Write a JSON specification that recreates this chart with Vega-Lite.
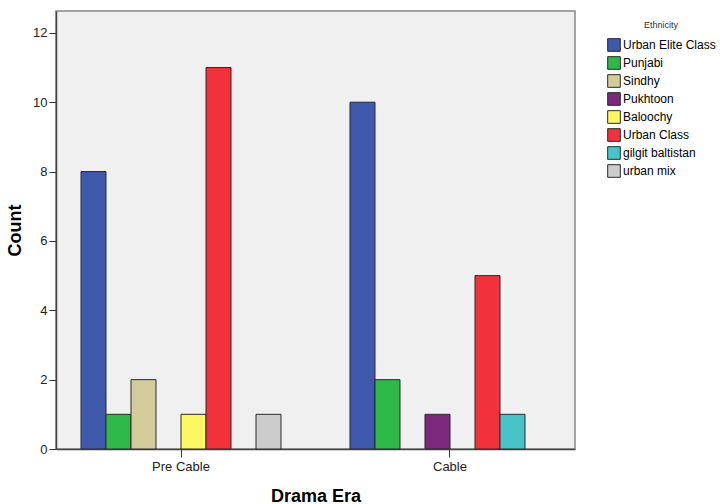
{
  "$schema": "https://vega.github.io/schema/vega-lite/v6.json",
  "width": 519,
  "height": 438,
  "autosize": "none",
  "padding": {"left": 56, "top": 11, "right": 150, "bottom": 55},
  "background": "white",
  "data": {
    "values": [
      {"era": "Pre Cable", "ethnicity": "Urban Elite Class", "count": 8},
      {"era": "Pre Cable", "ethnicity": "Punjabi", "count": 1},
      {"era": "Pre Cable", "ethnicity": "Sindhy", "count": 2},
      {"era": "Pre Cable", "ethnicity": "Baloochy", "count": 1},
      {"era": "Pre Cable", "ethnicity": "Urban Class", "count": 11},
      {"era": "Pre Cable", "ethnicity": "urban mix", "count": 1},
      {"era": "Cable", "ethnicity": "Urban Elite Class", "count": 10},
      {"era": "Cable", "ethnicity": "Punjabi", "count": 2},
      {"era": "Cable", "ethnicity": "Pukhtoon", "count": 1},
      {"era": "Cable", "ethnicity": "Urban Class", "count": 5},
      {"era": "Cable", "ethnicity": "gilgit baltistan", "count": 1}
    ]
  },
  "mark": {"type": "bar", "stroke": "#2a2a2a", "strokeWidth": 1, "opacity": 1},
  "encoding": {
    "x": {
      "field": "era",
      "type": "nominal",
      "sort": ["Pre Cable", "Cable"],
      "scale": {"paddingInner": 0.2565, "paddingOuter": 0.093},
      "axis": {
        "title": "Drama Era",
        "titleFont": "Liberation Sans",
        "titleFontSize": 18,
        "titleFontWeight": "bold",
        "titleColor": "#000000",
        "titleY": 52,
        "titleBaseline": "alphabetic",
        "labelAngle": 0,
        "labelFont": "Liberation Sans",
        "labelFontSize": 13,
        "labelColor": "#222222",
        "labelPadding": 3,
        "tickSize": 8,
        "tickColor": "#333333",
        "domainColor": "#444444",
        "domainWidth": 1.5
      }
    },
    "xOffset": {
      "field": "ethnicity",
      "type": "nominal",
      "scale": {
        "domain": ["Urban Elite Class", "Punjabi", "Sindhy", "Pukhtoon", "Baloochy", "Urban Class", "gilgit baltistan", "urban mix"],
        "paddingInner": 0,
        "paddingOuter": 0
      }
    },
    "y": {
      "field": "count",
      "type": "quantitative",
      "scale": {"domain": [0, 12.63], "nice": false, "zero": true},
      "axis": {
        "title": "Count",
        "titleFont": "Liberation Sans",
        "titleFontSize": 18,
        "titleFontWeight": "bold",
        "titleColor": "#000000",
        "titleX": -41,
        "titleY": 219,
        "titleAngle": -90,
        "titleAlign": "center",
        "titleBaseline": "middle",
        "values": [0, 2, 4, 6, 8, 10, 12],
        "grid": false,
        "labelFont": "Liberation Sans",
        "labelFontSize": 13,
        "labelColor": "#222222",
        "labelPadding": 2,
        "tickSize": 7,
        "tickColor": "#333333",
        "domainColor": "#444444",
        "domainWidth": 1.5
      }
    },
    "color": {
      "field": "ethnicity",
      "type": "nominal",
      "scale": {
        "domain": ["Urban Elite Class", "Punjabi", "Sindhy", "Pukhtoon", "Baloochy", "Urban Class", "gilgit baltistan", "urban mix"],
        "range": ["#3e58ac", "#2eb848", "#d1cc99", "#7c287d", "#fdf764", "#f1323a", "#48c4c8", "#cccccc"]
      },
      "legend": {
        "title": "Ethnicity",
        "orient": "none",
        "legendX": 551,
        "legendY": 10,
        "padding": 0,
        "titleFont": "Liberation Sans",
        "titleFontSize": 9,
        "titleFontWeight": "normal",
        "titleColor": "#333333",
        "titleAnchor": "middle",
        "titlePadding": 8,
        "labelFont": "Liberation Sans",
        "labelFontSize": 12,
        "labelColor": "#000000",
        "labelOffset": 2,
        "symbolType": "square",
        "symbolSize": 160,
        "symbolStrokeColor": "#2a2a2a",
        "symbolStrokeWidth": 1,
        "symbolOpacity": 1,
        "rowPadding": 0
      }
    }
  },
  "config": {
    "view": {"fill": "#f0f0f0", "stroke": "#888888", "strokeWidth": 1.5}
  }
}
